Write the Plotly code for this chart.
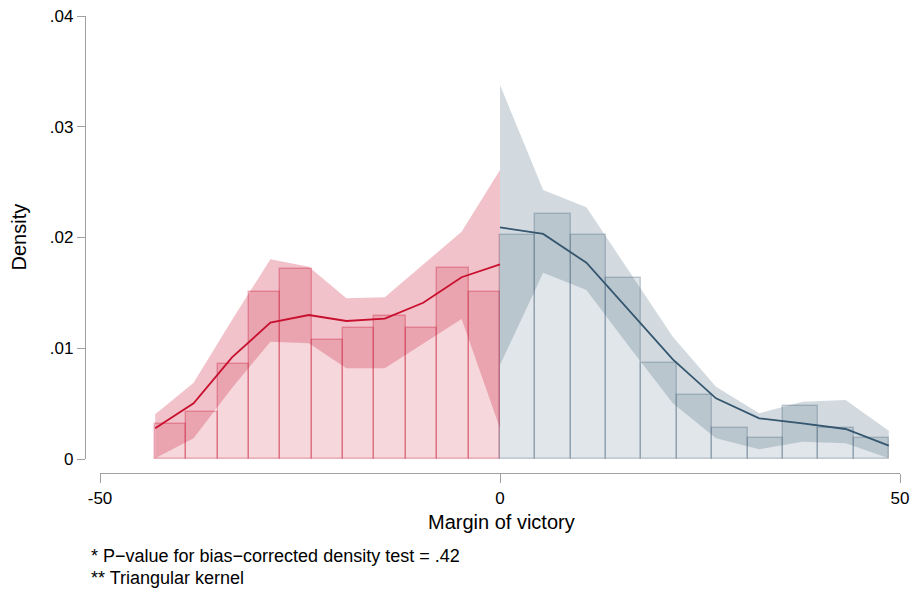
import plotly.graph_objects as go

# ---- data ----
left_bin_x = [-41.17, -37.25, -33.33, -29.41, -25.49, -21.57, -17.65, -13.73, -9.81, -5.89, -1.96]
left_bin_density = [0.00316, 0.00422, 0.00855, 0.01505, 0.01718, 0.01074, 0.0118, 0.01291, 0.0118, 0.01722, 0.01505]
left_bin_width = 3.92

right_bin_x = [2.21, 6.63, 11.05, 15.47, 19.89, 24.31, 28.73, 33.15, 37.57, 41.99, 46.41]
right_bin_density = [0.02023, 0.02212, 0.02023, 0.01632, 0.00864, 0.00578, 0.00283, 0.00187, 0.00476, 0.00283, 0.00187]
right_bin_width = 4.42

left_grid = [-43.1, -38.3, -33.5, -28.7, -23.9, -19.2, -14.4, -9.6, -4.8, 0.0]
left_fit = [0.00277, 0.00503, 0.00918, 0.01231, 0.0130, 0.01246, 0.01267, 0.01411, 0.01641, 0.01758]
left_ci_hi = [0.00404, 0.00689, 0.01255, 0.01803, 0.01736, 0.01451, 0.0146, 0.01752, 0.02052, 0.0261]
left_ci_lo = [0.00006, 0.00187, 0.00641, 0.01059, 0.01045, 0.00819, 0.00819, 0.01041, 0.01264, 0.00277]

right_grid = [0.0, 5.4, 10.8, 16.2, 21.6, 27.0, 32.4, 37.8, 43.2, 48.6]
right_fit = [0.02092, 0.02032, 0.01772, 0.01336, 0.0090, 0.00548, 0.00367, 0.00322, 0.00271, 0.0012]
right_ci_hi = [0.03377, 0.02429, 0.02273, 0.01683, 0.01104, 0.00653, 0.00413, 0.00517, 0.00533, 0.00256]
right_ci_lo = [0.00849, 0.01682, 0.01526, 0.01008, 0.00503, 0.00187, 0.00088, 0.00156, 0.00142, 0.00006]

x_ticks = [-50, 0, 50]
x_tick_text = ["-50", "0", "50"]
y_ticks = [0, 0.01, 0.02, 0.03, 0.04]
y_tick_text = ["0", ".01", ".02", ".03", ".04"]

# ---- styles ----
RED = "rgb(200,16,46)"
BLUE = "rgb(52,86,111)"
FONT = "Liberation Sans, Arial, sans-serif"
AXIS_GRAY = "rgb(160,160,160)"

fig = go.Figure()

# histograms
fig.add_trace(go.Bar(x=left_bin_x, y=left_bin_density, width=left_bin_width,
                     marker=dict(color="rgba(200,16,46,0.17)",
                                 line=dict(color="rgba(200,16,46,0.3)", width=1.5)),
                     showlegend=False, hoverinfo="skip"))
fig.add_trace(go.Bar(x=right_bin_x, y=right_bin_density, width=right_bin_width,
                     marker=dict(color="rgba(52,86,111,0.15)",
                                 line=dict(color="rgba(52,86,111,0.27)", width=1.5)),
                     showlegend=False, hoverinfo="skip"))

# confidence bands
fig.add_trace(go.Scatter(x=left_grid, y=left_ci_lo, mode="lines", line=dict(width=0),
                         showlegend=False, hoverinfo="skip"))
fig.add_trace(go.Scatter(x=left_grid, y=left_ci_hi, mode="lines", line=dict(width=0),
                         fill="tonexty", fillcolor="rgba(200,16,46,0.255)",
                         showlegend=False, hoverinfo="skip"))
fig.add_trace(go.Scatter(x=right_grid, y=right_ci_lo, mode="lines", line=dict(width=0),
                         showlegend=False, hoverinfo="skip"))
fig.add_trace(go.Scatter(x=right_grid, y=right_ci_hi, mode="lines", line=dict(width=0),
                         fill="tonexty", fillcolor="rgba(52,86,111,0.22)",
                         showlegend=False, hoverinfo="skip"))

# density estimates
fig.add_trace(go.Scatter(x=left_grid, y=left_fit, mode="lines",
                         line=dict(color=RED, width=1.8), showlegend=False))
fig.add_trace(go.Scatter(x=right_grid, y=right_fit, mode="lines",
                         line=dict(color=BLUE, width=1.8), showlegend=False))

W, H = 915, 599
ml, mr, mt, mb = 85, 15, 16, 126
pw, ph = W - ml - mr, H - mt - mb

fig.update_layout(
    width=W, height=H,
    margin=dict(l=ml, r=mr, t=mt, b=mb, pad=0, autoexpand=False),
    paper_bgcolor="white", plot_bgcolor="white",
    barmode="overlay", bargap=0,
    font=dict(family=FONT, size=17, color="black"),
    xaxis=dict(range=[-50, 50], domain=[15 / pw, 1], anchor="free", position=0,
               tickvals=x_ticks, ticktext=x_tick_text, automargin=False,
               showgrid=False, zeroline=False, showline=True, linecolor=AXIS_GRAY, linewidth=1.2,
               ticks="outside", ticklen=9, tickcolor=AXIS_GRAY, tickwidth=1.2,
               tickfont=dict(size=17, family=FONT, color="black")),
    yaxis=dict(range=[0, 0.04], domain=[14 / ph, 1], anchor="free", position=0,
               tickvals=y_ticks, ticktext=y_tick_text, automargin=False,
               showgrid=False, zeroline=False, showline=True, linecolor=AXIS_GRAY, linewidth=1.2,
               ticks="outside", ticklen=8, tickcolor=AXIS_GRAY, tickwidth=1.2,
               tickfont=dict(size=17, family=FONT, color="black")),
)

def px_x(p):
    return (p - ml) / pw

def px_y(p):
    return (H - mb - p) / ph

fig.add_annotation(text="Density", xref="paper", yref="paper", x=px_x(18), y=px_y(237.5),
                   textangle=-90, showarrow=False, xanchor="center", yanchor="middle",
                   font=dict(size=20, family=FONT, color="black"))
fig.add_annotation(text="Margin of victory", xref="paper", yref="paper", x=px_x(501), y=px_y(522),
                   showarrow=False, xanchor="center", yanchor="middle",
                   font=dict(size=20, family=FONT, color="black"))
fig.add_annotation(text="* P\u2212value for bias\u2212corrected density test = .42", xref="paper", yref="paper",
                   x=px_x(89), y=px_y(556), showarrow=False, xanchor="left", yanchor="middle",
                   font=dict(size=18, family=FONT, color="black"))
fig.add_annotation(text="** Triangular kernel", xref="paper", yref="paper",
                   x=px_x(89), y=px_y(578), showarrow=False, xanchor="left", yanchor="middle",
                   font=dict(size=18, family=FONT, color="black"))

fig.write_html("out.html")
